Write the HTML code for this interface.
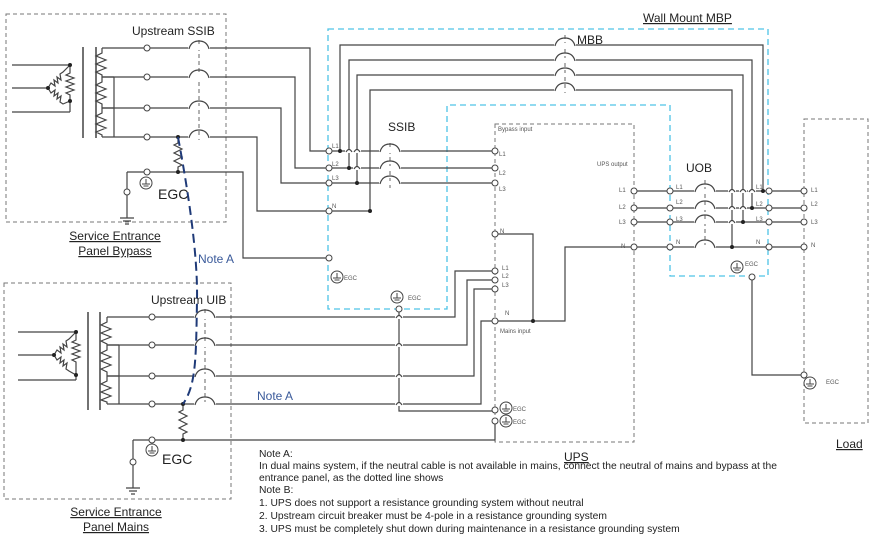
<!DOCTYPE html>
<html><head><meta charset="utf-8"><style>
body{margin:0;background:#fff}
svg{display:block;font-family:"Liberation Sans",Arial,sans-serif}
</style></head><body>
<svg width="884" height="540" viewBox="0 0 884 540" xmlns="http://www.w3.org/2000/svg">
<defs>
<g id="br"><rect x="-11" y="-2" width="22" height="4" fill="#fff"/><path d="M-10 1 Q-8 -7 0 -7 Q8 -7 10 1" fill="none" stroke="#444" stroke-width="1.2"/></g>
<g id="t"><circle r="3" fill="#fff" stroke="#444" stroke-width="1"/></g>
<g id="gnd"><circle r="6" fill="none" stroke="#444" stroke-width="1"/><path d="M0 -4V1M-4 1H4M-2.5 3H2.5" stroke="#444" stroke-width="1"/></g>
<g id="hop"><rect x="-4" y="-2" width="8" height="4" fill="#fff"/><path d="M-3 1 Q0 -4 3 1" fill="none" stroke="#444" stroke-width="1.2"/></g>
<g id="res"><path d="M0 0 L0 6 L-4 8 L4 12 L-4 16 L4 20 L-4 24 L4 28 L0 30 L0 36" fill="none" stroke="#444" stroke-width="1.2"/></g>
</defs>

<!-- boxes -->
<g fill="none" stroke="#777" stroke-width="1" stroke-dasharray="4,3">
<rect x="6" y="14" width="220" height="208"/>
<rect x="4" y="283" width="227" height="216"/>
<rect x="495" y="124" width="139" height="318"/>
<rect x="804" y="119" width="64" height="304"/>
</g>
<path d="M328 29H768V276H670V105H447V309H328Z" fill="none" stroke="#4fc3e6" stroke-width="1.3" stroke-dasharray="6,4"/>

<g fill="none" stroke="#444" stroke-width="1.2">
<!-- top transformer -->
<path d="M12 65H70M12 88H48M12 112H70"/>
<path d="M70 65V73L66 75L74 78L66 81L74 84L66 87L74 90L66 93L70 95V101"/>
<path d="M48 88L51 83L55 86L54 80L58 83L57 77L61 80L60 74L63 72L70 65"/>
<path d="M48 88L51 93L55 90L54 96L58 93L57 99L61 96L60 102L63 104L70 101V112"/>
<path d="M83 47V138M96 47V138" stroke-width="1.5"/>
<path d="M102 48V53L96 56L106 60L96 64L106 68L96 72L102 75V77V82L96 85L106 89L96 93L106 97L96 101L102 104V108V113L96 116L106 120L96 124L106 128L96 132L102 135V137"/>
<path d="M102 77H114M102 108H114M114 77V137"/>
<path d="M102 48H310V151H495M102 77H295V168H495M102 108H281V183H495M102 137H257V211H370"/>
<path d="M127 172H243V258H329M127 172V218M120 218H134M123 221H131M125 224H129"/>
<!-- MBB lines -->
<path d="M340 151V45H763V191M349 168V60H752V208M357 183V75H743V222M370 211V90H732V247"/>
<!-- bottom transformer -->
<path d="M18 332H76M18 355H54M18 380H76"/>
<path d="M76 332V340L72 342L80 345L72 348L80 351L72 354L80 357L72 360L76 362V380"/>
<path d="M54 355L57 350L61 353L60 347L64 350L63 344L67 347L66 341L69 339L76 332"/>
<path d="M54 355L57 360L61 357L60 363L64 360L63 366L67 363L66 369L69 371L76 375"/>
<path d="M88 312V410M100 312V410" stroke-width="1.5"/>
<path d="M107 317V322L101 325L111 329L101 333L111 337L101 341L107 344V345V350L101 353L111 357L101 361L111 365L101 369L107 372V376V381L101 384L111 388L101 392L111 396L101 400L107 402V404"/>
<path d="M107 345H119M107 376H119M119 345V404"/>
<path d="M107 317H455V271H495M107 345H467V280H495M107 376H474V289H495M107 404H481V321H495"/>
<path d="M133 440H495V421M133 440V488M126 488H140M129 491H137M131 494H135"/>
<path d="M399 309V411H495"/>
<!-- UPS internal -->
<path d="M495 234H533V321M495 321H565V247H634"/>
<!-- outputs -->
<path d="M634 191H804M634 208H804M634 222H804M634 247H804"/>
<path d="M752 277V375H804"/>
</g>
<use href="#res" x="178" y="137"/>
<use href="#res" x="183" y="404"/>
<!-- dots -->
<g fill="#222">
<circle cx="48" cy="88" r="2"/><circle cx="70" cy="65" r="2"/><circle cx="70" cy="101" r="2"/>
<circle cx="54" cy="355" r="2"/><circle cx="76" cy="332" r="2"/><circle cx="76" cy="375" r="2"/>
<circle cx="178" cy="137" r="2"/><circle cx="178" cy="172" r="2"/><circle cx="183" cy="404" r="2"/><circle cx="183" cy="440" r="2"/>
<circle cx="340" cy="151" r="2"/><circle cx="349" cy="168" r="2"/><circle cx="357" cy="183" r="2"/><circle cx="370" cy="211" r="2"/>
<circle cx="763" cy="191" r="2"/><circle cx="752" cy="208" r="2"/><circle cx="743" cy="222" r="2"/><circle cx="732" cy="247" r="2"/>
<circle cx="533" cy="321" r="2"/>
</g>
<!-- hops -->
<use href="#hop" x="349" y="151"/><use href="#hop" x="357" y="151"/><use href="#hop" x="357" y="168"/>
<use href="#hop" x="732" y="191"/><use href="#hop" x="743" y="191"/><use href="#hop" x="752" y="191"/>
<use href="#hop" x="732" y="208"/><use href="#hop" x="743" y="208"/><use href="#hop" x="732" y="222"/>
<use href="#hop" x="399" y="317"/><use href="#hop" x="399" y="345"/><use href="#hop" x="399" y="376"/><use href="#hop" x="399" y="404"/>
<!-- breakers -->
<g stroke="#666" stroke-width="1" stroke-dasharray="4,3"><path d="M199 40V140M205 309V407M390 143V188M565 35V93M705 180V250"/></g>
<use href="#br" x="199" y="48"/><use href="#br" x="199" y="77"/><use href="#br" x="199" y="108"/><use href="#br" x="199" y="137"/>
<use href="#br" x="205" y="317"/><use href="#br" x="205" y="345"/><use href="#br" x="205" y="376"/><use href="#br" x="205" y="404"/>
<use href="#br" x="390" y="151"/><use href="#br" x="390" y="168"/><use href="#br" x="390" y="183"/>
<use href="#br" x="565" y="45"/><use href="#br" x="565" y="60"/><use href="#br" x="565" y="75"/><use href="#br" x="565" y="90"/>
<use href="#br" x="705" y="191"/><use href="#br" x="705" y="208"/><use href="#br" x="705" y="222"/><use href="#br" x="705" y="247"/>
<!-- Note A dashed -->
<path d="M178 137 C186 180 198 250 197 300 C196 360 196 385 183 404" fill="none" stroke="#1f3a78" stroke-width="2" stroke-dasharray="9,5"/>
<!-- terminals -->
<g>
<use href="#t" x="147" y="48"/><use href="#t" x="147" y="77"/><use href="#t" x="147" y="108"/><use href="#t" x="147" y="137"/>
<use href="#t" x="147" y="172"/><use href="#t" x="127" y="192"/>
<use href="#t" x="152" y="317"/><use href="#t" x="152" y="345"/><use href="#t" x="152" y="376"/><use href="#t" x="152" y="404"/>
<use href="#t" x="152" y="440"/><use href="#t" x="133" y="462"/>
<use href="#t" x="329" y="151"/><use href="#t" x="329" y="168"/><use href="#t" x="329" y="183"/><use href="#t" x="329" y="211"/><use href="#t" x="329" y="258"/>
<use href="#t" x="495" y="151"/><use href="#t" x="495" y="168"/><use href="#t" x="495" y="183"/><use href="#t" x="495" y="234"/>
<use href="#t" x="495" y="271"/><use href="#t" x="495" y="280"/><use href="#t" x="495" y="289"/><use href="#t" x="495" y="321"/>
<use href="#t" x="495" y="410"/><use href="#t" x="495" y="421"/><use href="#t" x="399" y="309"/>
<use href="#t" x="634" y="191"/><use href="#t" x="634" y="208"/><use href="#t" x="634" y="222"/><use href="#t" x="634" y="247"/>
<use href="#t" x="670" y="191"/><use href="#t" x="670" y="208"/><use href="#t" x="670" y="222"/><use href="#t" x="670" y="247"/>
<use href="#t" x="769" y="191"/><use href="#t" x="769" y="208"/><use href="#t" x="769" y="222"/><use href="#t" x="769" y="247"/>
<use href="#t" x="804" y="191"/><use href="#t" x="804" y="208"/><use href="#t" x="804" y="222"/><use href="#t" x="804" y="247"/>
<use href="#t" x="804" y="375"/><use href="#t" x="752" y="277"/>
</g>
<!-- ground symbols -->
<use href="#gnd" x="146" y="183"/><use href="#gnd" x="152" y="450"/>
<use href="#gnd" x="337" y="277"/><use href="#gnd" x="397" y="297"/>
<use href="#gnd" x="506" y="408"/><use href="#gnd" x="506" y="421"/>
<use href="#gnd" x="737" y="267"/><use href="#gnd" x="810" y="383"/>

<!-- text -->
<g fill="#222" font-size="12">
<text x="132" y="35">Upstream SSIB</text>
<text x="158" y="199" font-size="14">EGC</text>
<text x="151" y="304">Upstream UIB</text>
<text x="162" y="464" font-size="14">EGC</text>
<text x="388" y="131">SSIB</text>
<text x="577" y="44">MBB</text>
<text x="686" y="172">UOB</text>
<text x="643" y="22" text-decoration="underline">Wall Mount MBP</text>
<text x="564" y="461" text-decoration="underline">UPS</text>
<text x="836" y="448" text-decoration="underline">Load</text>
<text x="115" y="240" text-anchor="middle" text-decoration="underline">Service Entrance</text>
<text x="115" y="255" text-anchor="middle" text-decoration="underline">Panel Bypass</text>
<text x="116" y="516" text-anchor="middle" text-decoration="underline">Service Entrance</text>
<text x="116" y="531" text-anchor="middle" text-decoration="underline">Panel Mains</text>
</g>
<g fill="#3a5a9a" font-size="12"><text x="198" y="263">Note A</text><text x="257" y="400">Note A</text></g>
<g fill="#555" font-size="6">
<text x="332" y="148">L1</text><text x="332" y="166">L2</text><text x="332" y="180">L3</text><text x="332" y="208">N</text>
<text x="344" y="280">EGC</text><text x="408" y="300">EGC</text>
<text x="498" y="131">Bypass input</text>
<text x="499" y="156">L1</text><text x="499" y="175">L2</text><text x="499" y="191">L3</text><text x="500" y="233">N</text>
<text x="502" y="270">L1</text><text x="502" y="278">L2</text><text x="502" y="287">L3</text><text x="505" y="315">N</text>
<text x="500" y="333">Mains input</text>
<text x="513" y="411">EGC</text><text x="513" y="424">EGC</text>
<text x="597" y="166">UPS output</text>
<text x="619" y="192">L1</text><text x="619" y="209">L2</text><text x="619" y="224">L3</text><text x="621" y="248">N</text>
<text x="676" y="189">L1</text><text x="676" y="204">L2</text><text x="676" y="221">L3</text><text x="676" y="244">N</text>
<text x="756" y="189">L1</text><text x="756" y="206">L2</text><text x="756" y="221">L3</text><text x="756" y="244">N</text>
<text x="745" y="266">EGC</text>
<text x="811" y="192">L1</text><text x="811" y="206">L2</text><text x="811" y="224">L3</text><text x="811" y="247">N</text>
<text x="826" y="384">EGC</text>
</g>
<g fill="#222" font-size="10.3">
<text x="259" y="457">Note A:</text>
<text x="259" y="469">In dual mains system, if the neutral cable is not available in mains, connect the neutral of mains and bypass at the</text>
<text x="259" y="481">entrance panel, as the dotted line shows</text>
<text x="259" y="493">Note B:</text>
<text x="259" y="506">1. UPS does not support a resistance grounding system without neutral</text>
<text x="259" y="519">2. Upstream circuit breaker must be 4-pole in a resistance grounding system</text>
<text x="259" y="532">3. UPS must be completely shut down during maintenance in a resistance grounding system</text>
</g>
</svg>
</body></html>
